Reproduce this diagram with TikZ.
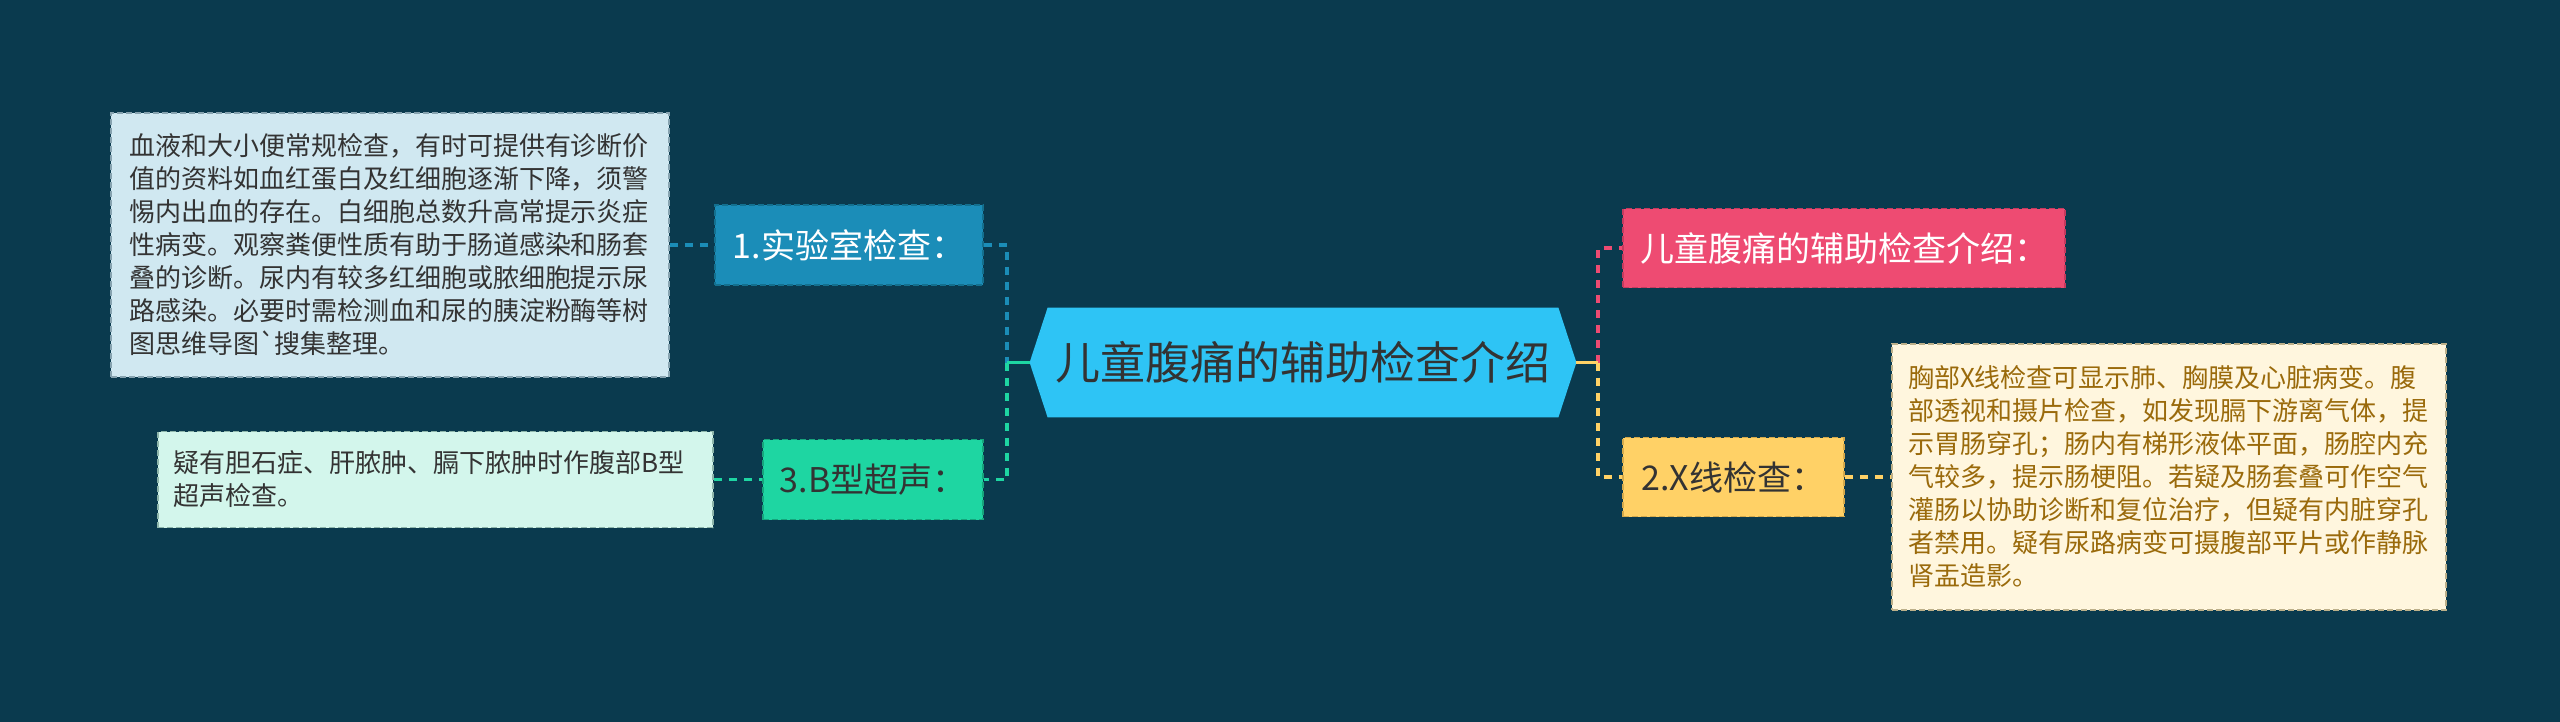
\documentclass[tikz,border=0pt]{standalone}
\usepackage{fontspec}
\newfontfamily\cjk{Noto Sans CJK SC}[Ligatures=TeXOff]
\usetikzlibrary{calc}
\pgfdeclarelayer{bg}
\pgfsetlayers{bg,main}
\definecolor{bgc}{HTML}{0A3A4E}
\definecolor{blueN}{HTML}{1B8DB8}
\definecolor{blueB}{HTML}{13708F}
\definecolor{blueBox}{HTML}{D0E8F1}
\definecolor{blueBoxB}{HTML}{86A3B0}
\definecolor{greenN}{HTML}{1ED6A2}
\definecolor{greenB}{HTML}{16A57C}
\definecolor{greenBox}{HTML}{D3F6EC}
\definecolor{greenBoxB}{HTML}{8DB5AA}
\definecolor{pinkN}{HTML}{EE4B72}
\definecolor{pinkB}{HTML}{C53A5E}
\definecolor{yelN}{HTML}{FFD166}
\definecolor{yelB}{HTML}{D4A94B}
\definecolor{yelBox}{HTML}{FFF6DE}
\definecolor{yelBoxB}{HTML}{BDB08A}
\definecolor{brownT}{HTML}{9A6A0B}
\definecolor{centerC}{HTML}{2EC4F5}
\definecolor{darkT}{HTML}{333333}
\tikzset{
  box/.style={rectangle, draw, line width=0.8pt, dash pattern=on 3pt off 1.5pt,
    inner ysep=0pt, align=left, text=darkT,
    font=\cjk\fontsize{13pt}{16.5pt}\selectfont},
  lbl/.style={rectangle, draw, line width=0.8pt, dash pattern=on 3pt off 1.5pt,
    inner sep=0pt, align=center, minimum height=40pt,
    font=\cjk\fontsize{17pt}{20pt}\selectfont},
  con/.style={line width=1.6pt, dash pattern=on 4pt off 3.5pt},
  solidcon/.style={line width=1.6pt},
}
\begin{document}
\begin{tikzpicture}[x=0.5pt,y=-0.5pt]
\useasboundingbox (0,0) rectangle (2560,722);
\begin{pgfonlayer}{bg}
\fill[bgc] (0,0) rectangle (2560,722);
\end{pgfonlayer}

% center node
\node[rectangle, inner sep=0pt, minimum width=273pt, minimum height=54.5pt,
  text=darkT, font=\cjk\fontsize{22.5pt}{26pt}\selectfont] (c) at (1303,362.5) {儿童腹痛的辅助检查介绍};
\begin{pgfonlayer}{bg}
\fill[centerC] (c.west) -- ([xshift=9pt]c.north west) -- ([xshift=-9pt]c.north east)
  -- (c.east) -- ([xshift=-9pt]c.south east) -- ([xshift=9pt]c.south west) -- cycle;
\end{pgfonlayer}

% left side
\node[box, fill=blueBox, draw=blueBoxB, inner xsep=9pt, text width=261pt,
  minimum width=279pt, minimum height=132pt] (b1) at (390,245) {血液和大小便常规检查，有时可提供有诊断价\\
值的资料如血红蛋白及红细胞逐渐下降，须警\\
惕内出血的存在。白细胞总数升高常提示炎症\\
性病变。观察粪便性质有助于肠道感染和肠套\\
叠的诊断。尿内有较多红细胞或脓细胞提示尿\\
路感染。必要时需检测血和尿的胰淀粉酶等树\\
图思维导图`搜集整理。};
\node[lbl, fill=blueN, draw=blueB, text=white, minimum width=134pt] (n1) at (849,245) {1.实验室检查：};

\node[box, fill=greenBox, draw=greenBoxB, inner xsep=7.5pt, text width=262.5pt,
  minimum width=277.5pt, minimum height=48pt] (b3) at (435.5,479.5) {疑有胆石症、肝脓肿、膈下脓肿时作腹部B型\\
超声检查。};
\node[lbl, fill=greenN, draw=greenB, text=darkT, minimum width=110pt] (n3) at (873,479.5) {3.B型超声：};

% right side
\node[lbl, fill=pinkN, draw=pinkB, text=white, minimum width=221pt, minimum height=39.5pt] (pk) at (1844,248) {儿童腹痛的辅助检查介绍：};
\node[lbl, fill=yelN, draw=yelB, text=darkT, minimum width=110.5pt, minimum height=39.5pt] (n2) at (1733.5,477) {2.X线检查：};
\node[box, fill=yelBox, draw=yelBoxB, text=brownT, inner xsep=8pt, text width=261pt,
  minimum width=277pt, minimum height=133pt] (b2) at (2169,477) {胸部X线检查可显示肺、胸膜及心脏病变。腹\\
部透视和摄片检查，如发现膈下游离气体，提\\
示胃肠穿孔；肠内有梯形液体平面，肠腔内充\\
气较多，提示肠梗阻。若疑及肠套叠可作空气\\
灌肠以协助诊断和复位治疗，但疑有内脏穿孔\\
者禁用。疑有尿路病变可摄腹部平片或作静脉\\
肾盂造影。};

% junctions
\coordinate (jl) at (1007,362.5);
\coordinate (jr) at (1598,362.5);

% connectors left
\draw[con, blueN] (n1.east) -| (jl);
\draw[con, blueN] (b1.east) -- (n1.west);
\draw[con, greenN] (jl) |- (n3.east);
\draw[solidcon, greenN] (c.west) -- (jl);
\draw[con, greenN] (b3.east) -- (n3.west);

% connectors right
\draw[con, pinkN] (jr) |- (pk.west);
\draw[con, yelN] (jr) |- (n2.west);
\draw[solidcon, yelN] (c.east) -- (jr);
\draw[con, yelN] (n2.east) -- (b2.west);
\end{tikzpicture}
\end{document}
